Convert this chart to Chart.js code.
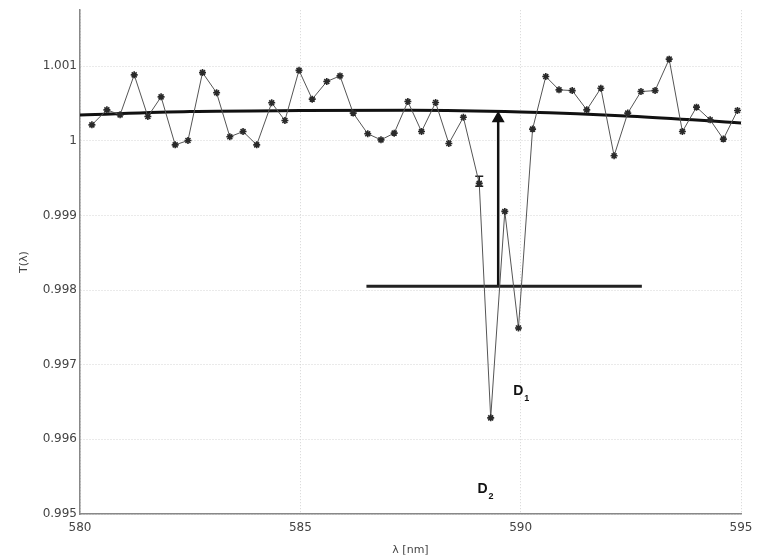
<!DOCTYPE html>
<html>
<head>
<meta charset="utf-8">
<script src="https://cdn.jsdelivr.net/npm/chart.js@4/dist/chart.umd.min.js"></script>
<style>
  html, body { margin: 0; padding: 0; background: #fff; }
  #wrap { width: 760px; height: 557px; }
</style>
</head>
<body>
<div id="wrap"><canvas id="graph" width="760" height="557"></canvas></div>
<script>
// mesures (longueur d'onde en nm, transmission)
var lambda = [580.27, 580.61, 580.91, 581.23, 581.54, 581.84, 582.16, 582.45, 582.78, 583.10,
              583.40, 583.70, 584.01, 584.35, 584.65, 584.97, 585.27, 585.60, 585.90, 586.20,
              586.53, 586.83, 587.13, 587.44, 587.75, 588.07, 588.37, 588.70, 589.06, 589.32,
              589.64, 589.95, 590.27, 590.57, 590.87, 591.17, 591.50, 591.82, 592.12, 592.43,
              592.73, 593.05, 593.37, 593.67, 593.99, 594.30, 594.60, 594.92];
var transmission = [1.000214, 1.000415, 1.000348, 1.000884, 1.000325, 1.000589, 0.999946, 1.000004, 1.000914, 1.000643,
                    1.000054, 1.000124, 0.999946, 1.000509, 1.000272, 1.000944, 1.000558, 1.000794, 1.000870, 1.000371,
                    1.000094, 1.000013, 1.000103, 1.000526, 1.000124, 1.000513, 0.999964, 1.000315, 0.999430, 0.996288,
                    0.999054, 0.997493, 1.000157, 1.000861, 1.000683, 1.000673, 1.000415, 1.000705, 0.999799, 1.000371,
                    1.000660, 1.000673, 1.001094, 1.000124, 1.000451, 1.000281, 1.000023, 1.000406];

// courbe lissee (fond continu)
var fitX = [580, 582.5, 585, 587.5, 590, 592.5, 595];
var fitY = [1.000345, 1.000392, 1.000405, 1.000408, 1.000385, 1.000330, 1.000240];

// ligne horizontale de reference
var refX = [586.5, 592.75];
var refY = [0.99805, 0.99805];

// fleche verticale
var arrowX = 589.49;
var arrowFrom = 0.99805;
var arrowTo = 1.000300;

// barre d'erreur sur le point 589.06
var errX = 589.06;
var errY = [0.999525, 0.999390];

// etiquettes D1 / D2
var labelText = ['D', 'D'];
var labelSub = ['1', '2'];
var labelX = [589.83, 589.02];
var labelY = [0.996640, 0.995330];

var yTicks = [0.995, 0.996, 0.997, 0.998, 0.999, 1, 1.001];

var fontFam = '"DejaVu Sans", Arial, sans-serif';

var toPts = function(xs, ys) {
    return xs.map(function(x, i) { return { x: x, y: ys[i] }; });
};

// plugin pour ecrire D1 et D2
var labelsPlugin = {
    id: 'dLabels',
    afterDatasetsDraw: function(chart) {
        var ctx = chart.ctx;
        var sx = chart.scales.x, sy = chart.scales.y;
        ctx.save();
        ctx.fillStyle = '#111';
        ctx.textBaseline = 'middle';
        ctx.textAlign = 'left';
        for (var i = 0; i < labelText.length; i++) {
            var px = sx.getPixelForValue(labelX[i]);
            var py = sy.getPixelForValue(labelY[i]);
            ctx.font = 'bold 14px "Liberation Sans", Arial, sans-serif';
            ctx.fillText(labelText[i], px, py);
            var w = ctx.measureText(labelText[i]).width;
            ctx.font = 'bold 9px "Liberation Sans", Arial, sans-serif';
            ctx.fillText(labelSub[i], px + w + 1, py + 7);
        }
        ctx.restore();
    }
};

var config = {
    type: 'line',
    data: {
        datasets: [{
            label: 'mesure',
            data: toPts(lambda, transmission),
            borderColor: '#555',
            borderWidth: 1,
            pointStyle: 'star',
            pointRadius: 3.5,
            pointBorderWidth: 1.6,
            pointBorderColor: '#2a2a2a',
            pointBackgroundColor: '#2a2a2a',
            tension: 0
        }, {
            label: 'fond',
            data: toPts(fitX, fitY),
            borderColor: '#111',
            borderWidth: 3,
            pointRadius: 0,
            cubicInterpolationMode: 'monotone'
        }, {
            label: 'reference',
            data: toPts(refX, refY),
            borderColor: '#222',
            borderWidth: 3,
            pointRadius: 0
        }, {
            label: 'fleche',
            data: [{ x: arrowX, y: arrowFrom }, { x: arrowX, y: arrowTo }],
            borderColor: '#111',
            borderWidth: 2.5,
            pointRadius: [0, 5],
            pointStyle: 'triangle',
            pointBackgroundColor: '#111',
            pointBorderColor: '#111'
        }, {
            label: 'erreur',
            data: [{ x: errX, y: errY[0] }, { x: errX, y: errY[1] }],
            borderColor: '#222',
            borderWidth: 1.5,
            pointStyle: 'line',
            pointRadius: 4,
            pointBorderWidth: 1.5,
            pointBorderColor: '#222'
        }]
    },
    options: {
        responsive: false,
        animation: false,
        layout: { padding: { top: 10, right: 19, left: 0, bottom: 0 } },
        plugins: { legend: { display: false }, tooltip: { enabled: false } },
        scales: {
            x: {
                type: 'linear',
                min: 580,
                max: 595,
                grid: { color: '#d4d4d4', drawTicks: false, lineWidth: 1 },
                border: { color: '#888', width: 1.5, dash: [1, 2] },
                ticks: {
                    stepSize: 5,
                    padding: 7,
                    color: '#444',
                    font: { family: fontFam, size: 12 }
                },
                title: {
                    display: true,
                    text: 'λ [nm]',
                    color: '#444',
                    padding: { top: 3, bottom: 0 },
                    font: { family: fontFam, size: 11 }
                },
                afterFit: function(scale) { scale.height = 43; }
            },
            y: {
                type: 'linear',
                min: 0.995,
                max: 1.00175,
                afterBuildTicks: function(scale) {
                    scale.ticks = yTicks.map(function(v) { return { value: v }; });
                },
                grid: { color: '#d4d4d4', drawTicks: false, lineWidth: 1 },
                border: { color: '#888', width: 1.5, dash: [1, 2] },
                ticks: {
                    padding: 3,
                    color: '#444',
                    font: { family: fontFam, size: 12 },
                    callback: function(v) { return parseFloat(v.toFixed(4)).toString(); }
                },
                title: {
                    display: true,
                    text: 'T(λ)',
                    color: '#444',
                    padding: { top: 18, bottom: 0 },
                    font: { family: fontFam, size: 11 }
                },
                afterFit: function(scale) { scale.width = 80; }
            }
        }
    },
    plugins: [labelsPlugin]
};

window.onload = function() {
    var ctx = document.getElementById('graph').getContext('2d');
    window.myChart = new Chart(ctx, config);
};
</script>
</body>
</html>
